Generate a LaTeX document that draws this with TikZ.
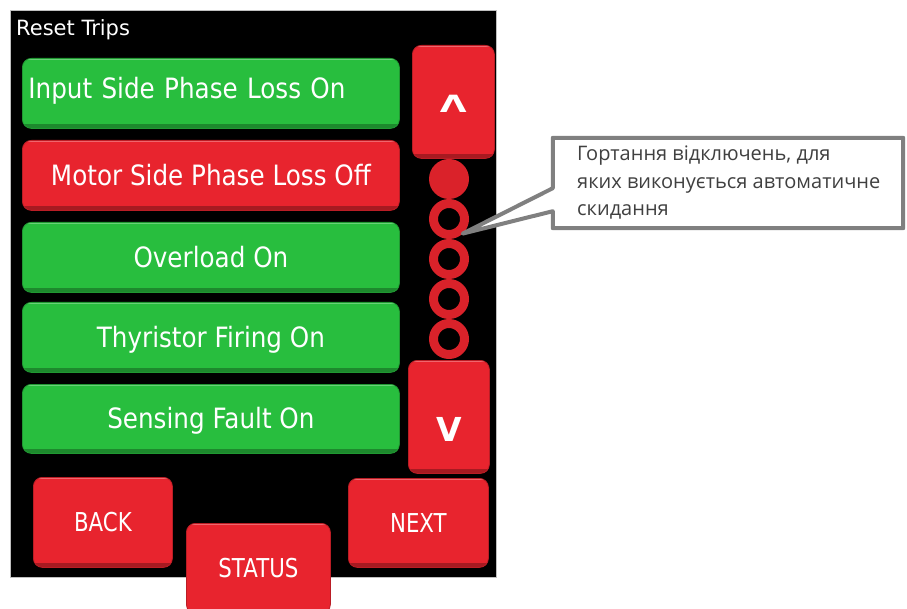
\documentclass[tikz,border=0pt]{standalone}
\usepackage{fontspec}
\usepackage{graphicx}
\newfontfamily\plainfont{DejaVu Sans}
\newfontfamily\uifont{DejaVu Sans}[FakeStretch=0.88]
\newfontfamily\navfont{DejaVu Sans}[FakeStretch=0.82]
\newfontfamily\notefont{Open Sans}
\definecolor{btngreen}{RGB}{40,190,62}
\definecolor{btnred}{RGB}{232,36,46}
\definecolor{dotred}{RGB}{218,34,42}
\definecolor{notegray}{RGB}{128,128,128}
\definecolor{notetext}{RGB}{64,64,64}
\begin{document}
\begin{tikzpicture}[x=1pt,y=-1pt,
  btn/.style={anchor=north west, inner sep=0pt, rounded corners=9pt,
    fill=#1, draw=#1!80!black, line width=0.8pt, text=white,
    path picture={
      \fill[sharp corners,#1!72!black] ([yshift=4pt]path picture bounding box.south west)
        rectangle (path picture bounding box.south east);
      \fill[sharp corners,#1!70!white] (path picture bounding box.north west)
        rectangle ([yshift=-2pt]path picture bounding box.north east);
    }},
  trip/.style={btn=#1, minimum width=377pt, minimum height=70pt,
    font=\uifont\fontsize{28}{30}\selectfont, text height=20pt, text depth=0pt},
  navbtn/.style={btn=btnred, font=\navfont\fontsize{26}{28}\selectfont,
    text height=19pt, text depth=0pt},
  scrollbtn/.style={btn=btnred, font=\plainfont\bfseries\fontsize{33}{35}\selectfont},
  pagedot/.style={circle, inner sep=0pt, fill=dotred, minimum size=40pt},
  pagering/.style={circle, inner sep=0pt, draw=dotred, line width=9pt, minimum size=31pt},
  callout/.style={draw=notegray, line width=4pt, fill=white, line join=round}
]
\useasboundingbox (0,0) rectangle (907,609);
\clip (0,0) rectangle (907,609);

% panel background
\fill[black, draw=gray!50, line width=0.7pt] (10,10) rectangle (496,577);
\node[anchor=base west, inner sep=0pt, text=white,
      font=\plainfont\fontsize{21}{23}\selectfont] (title) at (16,36) {Reset Trips};

% trip list
\node[trip=btngreen, text width=365pt, align=left, inner xsep=6pt, text depth=9pt]
  (b1) at (22,58) {Input Side Phase Loss On};
\node[trip=btnred]   (b2) at (22,140) {Motor Side Phase Loss Off};
\node[trip=btngreen] (b3) at (22,222) {Overload On};
\node[trip=btngreen] (b4) at (22,302) {Thyristor Firing On};
\node[trip=btngreen, minimum height=69pt] (b5) at (22,384) {Sensing Fault On};

% scroll buttons and page indicator
\node[scrollbtn, minimum width=82pt, minimum height=113pt, text height=21pt, text depth=0pt]
  (up) at (412,45) {\scalebox{1.05}[0.72]{Λ}};
\node[scrollbtn, minimum width=81pt, minimum height=113pt, text height=49pt, text depth=0pt]
  (down) at (408,360) {V};
\node[pagedot]  (dot1)  at (449,179) {};
\node[pagering] (ring1) at (449,219) {};
\node[pagering] (ring2) at (449,259) {};
\node[pagering] (ring3) at (449,299) {};
\node[pagering] (ring4) at (449,339) {};

% navigation buttons
\node[navbtn, minimum width=139pt, minimum height=90pt] (back)   at (33,477)  {BACK};
\node[navbtn, minimum width=140pt, minimum height=89pt] (next)   at (348,478) {NEXT};
\node[navbtn, minimum width=144pt, minimum height=90pt] (status) at (186,523) {STATUS};

% callout
\node[minimum width=350pt, minimum height=90pt, inner sep=0pt] (note) at (728,183) {};
\coordinate (tip) at (ring1.-47);
\draw[callout] (note.north west) -- (note.north east) -- (note.south east)
  -- (note.south west) -- ([yshift=17pt]note.south west) -- (tip)
  -- ([yshift=40pt]note.south west) -- cycle;
\node[anchor=north west, align=left, inner sep=0pt, text=notetext,
      font=\notefont\fontsize{20}{27.5}\selectfont] (notetxt) at (577,146)
  {Гортання відключень, для\\яких виконується автоматичне\\скидання};
\end{tikzpicture}
\end{document}
